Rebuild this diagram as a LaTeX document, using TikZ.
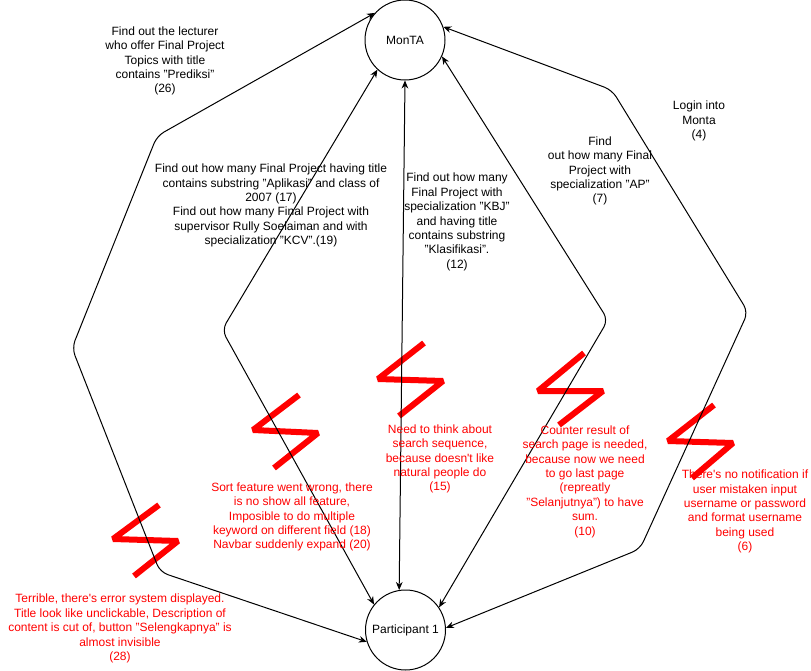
\documentclass[tikz,border=0pt]{standalone}
\usepackage{fontspec}
\setmainfont{Liberation Sans}
\usetikzlibrary{arrows.meta}
\definecolor{alertred}{HTML}{FF0000}
\tikzset{
  circ/.style={draw, circle, minimum size=60pt, inner sep=0pt, line width=0.75pt, font=\fontsize{9}{10.8}\selectfont},
  lbl/.style={align=center, inner sep=0pt, font=\fontsize{9}{10.8}\selectfont},
  redlbl/.style={lbl, text=alertred},
  conn/.style={line width=0.75pt, rounded corners=6pt, {Stealth[length=6pt,width=5pt]}-{Stealth[length=6pt,width=5pt]}},
  bolt/.style={draw=alertred, line width=4.5pt, line join=bevel, line cap=butt}
}
\begin{document}
\begin{tikzpicture}[x=0.75pt,y=-0.75pt]
\useasboundingbox (0,0) rectangle (811,671);
% lightning symbols
\draw[bolt] (159,505) -- (113,539) -- (178,541) -- (134,576);
\draw[bolt] (299,395) -- (253,430) -- (318,433) -- (274,468);
\draw[bolt] (424,343) -- (378,379) -- (443,381) -- (399,416);
\draw[bolt] (584,353) -- (538,391) -- (603,391) -- (559,425);
\draw[bolt] (714,405) -- (668,441) -- (733,443) -- (692,478);
% nodes
\node[circ] (monta) at (405,40) {MonTA};
\node[circ] (part) at (405.5,630) {Participant 1};
% connectors
\draw[conn] (monta.138) -- (157,136) -- (72,348) -- (160,572) -- (part.197);
\draw[conn] (monta.227) -- (222,330) -- (part.141);
\draw[conn] (monta.270) -- (part.99);
\draw[conn] (monta.336) -- (608,320) -- (part.34);
\draw[conn] (monta.19) -- (612,90) -- (748,312) -- (640,549) -- (part.3);
% labels
\node[lbl] (t26) at (165,61) {Find out the lecturer\\who offer Final Project\\Topics with title\\contains "Prediksi"\\(26)};
\node[lbl] (t17) at (271,205.5) {Find out how many Final Project having title\\contains substring "Aplikasi" and class of\\2007 (17)\\Find out how many Final Project with\\supervisor Rully Soelaiman and with\\specialization "KCV".(19)};
\node[lbl] (t12) at (457,222) {Find out how many\\Final Project with\\specialization "KBJ"\\and having title\\contains substring\\"Klasifikasi".\\(12)};
\node[lbl] (t7) at (600,171) {Find\\out how many Final\\Project with\\specialization "AP"\\(7)};
\node[lbl] (t4) at (699,121) {Login into\\Monta\\(4)};
\node[redlbl] (t28) at (120,628.5) {Terrible, there\textquotesingle s error system displayed.\\Title look like unclickable, Description of\\content is cut of, button "Selengkapnya" is\\almost invisible\\(28)};
\node[redlbl] (t18) at (292,517) {Sort feature went wrong, there\\is no show all feature,\\Imposible to do multiple\\keyword on different field (18)\\Navbar suddenly expand (20)};
\node[redlbl] (t15) at (440,459) {Need to think about\\search sequence,\\because doesn\textquotesingle t like\\natural people do\\(15)};
\node[redlbl] (t10) at (585,481.5) {Counter result of\\search page is needed,\\because now we need\\to go last page\\(repreatly\\"Selanjutnya") to have\\sum.\\(10)};
\node[redlbl] (t6) at (745,511.5) {There\textquotesingle s no notification if\\user mistaken input\\username or password\\and format username\\being used\\(6)};
\end{tikzpicture}
\end{document}
